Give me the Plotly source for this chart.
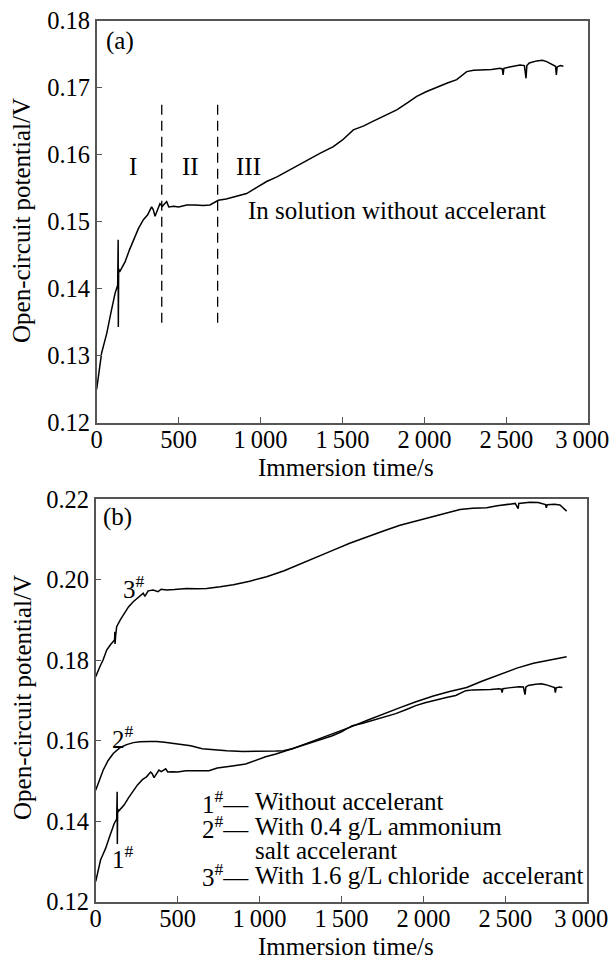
import plotly.graph_objects as go

# ---- data ----
t1 = [0, 15, 30, 45, 61, 85, 112, 128, 131, 132, 134, 140, 155, 173, 200, 224, 255, 285, 310, 335, 345, 356,
      370, 386, 400, 427, 440, 470, 500, 550, 600, 650, 691, 742, 790, 834, 915, 975, 1037, 1100, 1159, 1242,
      1300, 1362, 1444, 1500, 1566, 1630, 1688, 1760, 1831, 1900, 1953, 2010, 2075, 2140, 2197, 2230, 2258,
      2300, 2359, 2410, 2461, 2475, 2480, 2485, 2520, 2583, 2610, 2620, 2625, 2640, 2685, 2720, 2746, 2780,
      2800, 2805, 2810, 2830, 2848]
v1 = [0.1250, 0.1275, 0.1304, 0.1318, 0.1333, 0.1362, 0.1393, 0.1405, 0.1473, 0.1343, 0.1430, 0.1425, 0.1432,
      0.1440, 0.1458, 0.1473, 0.1490, 0.1503, 0.1510, 0.1522, 0.1518, 0.1508, 0.1518, 0.1527, 0.1523, 0.1530,
      0.1522, 0.1523, 0.1522, 0.1525, 0.1525, 0.1524, 0.1525, 0.1532, 0.1534, 0.1537, 0.1542, 0.1551, 0.1560,
      0.1567, 0.1575, 0.1585, 0.1593, 0.1602, 0.1612, 0.1622, 0.1637, 0.1643, 0.1650, 0.1658, 0.1667, 0.1678,
      0.1687, 0.1694, 0.1701, 0.1707, 0.1712, 0.1719, 0.1724, 0.1726, 0.1726, 0.1727, 0.1729, 0.1728, 0.1719,
      0.1729, 0.1731, 0.1734, 0.1733, 0.1714, 0.1733, 0.1737, 0.1740, 0.1741, 0.1739, 0.1735, 0.1732, 0.1719,
      0.1731, 0.1733, 0.1732]

t2 = [0, 20, 46, 75, 107, 150, 189, 230, 270, 330, 372, 420, 500, 580, 650, 720, 800, 900, 1000, 1100, 1145,
      1200, 1247, 1300, 1380, 1450, 1550, 1654, 1750, 1857, 1950, 2060, 2160, 2264, 2360, 2467, 2570, 2671,
      2770, 2874]
v2 = [0.1477, 0.1500, 0.1527, 0.1550, 0.1568, 0.1583, 0.1590, 0.1595, 0.1597, 0.1598, 0.1598, 0.1596, 0.1592,
      0.1587, 0.1580, 0.1577, 0.1575, 0.1573, 0.1573, 0.1574, 0.1575, 0.1580, 0.1587, 0.1595, 0.1607, 0.1616,
      0.1633, 0.1650, 0.1666, 0.1682, 0.1696, 0.1711, 0.1722, 0.1732, 0.1748, 0.1765, 0.1780, 0.1792, 0.1800,
      0.1808]

t3 = [0, 10, 26, 45, 67, 90, 108, 115, 117, 118, 122, 128, 150, 179, 200, 229, 260, 290, 300, 320, 351, 380,
      400, 433, 480, 555, 620, 677, 760, 840, 940, 1043, 1150, 1247, 1350, 1450, 1550, 1654, 1760, 1857, 1960,
      2060, 2140, 2223, 2300, 2386, 2450, 2508, 2560, 2578, 2582, 2650, 2700, 2745, 2750, 2755, 2800, 2833,
      2874]
v3 = [0.1759, 0.1770, 0.1784, 0.1800, 0.1825, 0.1838, 0.1846, 0.1850, 0.1870, 0.1840, 0.1862, 0.1883, 0.1900,
      0.1920, 0.1932, 0.1945, 0.1955, 0.1966, 0.1958, 0.1972, 0.1974, 0.1970, 0.1976, 0.1974, 0.1975, 0.1978,
      0.1977, 0.1978, 0.1982, 0.1987, 0.1996, 0.2007, 0.2022, 0.2038, 0.2056, 0.2073, 0.2090, 0.2106, 0.2121,
      0.2135, 0.2146, 0.2156, 0.2165, 0.2174, 0.2177, 0.2178, 0.2183, 0.2187, 0.2189, 0.2176, 0.2189, 0.2192,
      0.2191, 0.2186, 0.2178, 0.2186, 0.2187, 0.2185, 0.2170]

stage_bounds = [397, 738]
stage_span = [0.1349, 0.1682]
stage_labels = ["I", "II", "III"]
stage_label_t = [222, 575, 924]
stage_label_v = 0.1583

x_tickvals = [0, 500, 1000, 1500, 2000, 2500, 3000]
x_ticktext = ["0", "500", "1\u2009000", "1\u2009500", "2\u2009000", "2\u2009500", "3\u2009000\u2007"]
ya_ticks = [0.12, 0.13, 0.14, 0.15, 0.16, 0.17, 0.18]
yb_ticks = [0.12, 0.14, 0.16, 0.18, 0.20, 0.22]

legend_marks = ["1<sup>#</sup>—", "2<sup>#</sup>—", "", "3<sup>#</sup>—"]
legend_texts = ["Without accelerant", "With 0.4 g/L ammonium", "salt accelerant",
                "With 1.6 g/L chloride  accelerant"]

FONT = "Liberation Serif, Times New Roman, serif"
FS = 25
TFS = 24.5
W, H = 612, 958
AX = "#555555"

fig = go.Figure()
line = dict(color="black", width=1.5)
fig.add_trace(go.Scatter(x=t1, y=v1, mode="lines", line=line, xaxis="x", yaxis="y"))
for tb in stage_bounds:
    fig.add_trace(go.Scatter(x=[tb, tb], y=stage_span, mode="lines",
                             line=dict(color="black", width=1.3, dash="10px,6px"), xaxis="x", yaxis="y"))
fig.add_trace(go.Scatter(x=t1, y=v1, mode="lines", line=line, xaxis="x2", yaxis="y2"))
fig.add_trace(go.Scatter(x=t2, y=v2, mode="lines", line=line, xaxis="x2", yaxis="y2"))
fig.add_trace(go.Scatter(x=t3, y=v3, mode="lines", line=line, xaxis="x2", yaxis="y2"))

common_x = dict(range=[0, 3000], tickvals=x_tickvals, ticktext=x_ticktext, ticks="inside", ticklen=6,
                tickwidth=1.3, tickcolor=AX, showline=True, linecolor=AX, linewidth=1.5, mirror=True,
                showgrid=False, zeroline=False, automargin=False, ticklabeloverflow="allow",
                ticklabelstandoff=-6,
                tickfont=dict(family=FONT, size=TFS, color="black"))
common_y = dict(ticks="inside", ticklen=6, tickwidth=1.3, tickcolor=AX, showline=True, linecolor=AX,
                linewidth=1.5, mirror=True, showgrid=False, zeroline=False, tickformat=".2f",
                automargin=False, ticklabeloverflow="allow",
                tickfont=dict(family=FONT, size=TFS, color="black"))

fig.update_layout(
    width=W, height=H, margin=dict(l=0, r=0, t=0, b=0, autoexpand=False),
    paper_bgcolor="white", plot_bgcolor="white", showlegend=False,
    font=dict(family=FONT, size=FS, color="black"),
    xaxis=dict(domain=[96.7 / W, 588.3 / W], anchor="y", **common_x),
    yaxis=dict(domain=[1 - 422.7 / H, 1 - 20.7 / H], anchor="x", range=[0.12, 0.18], tickvals=ya_ticks,
               **common_y),
    xaxis2=dict(domain=[95.7 / W, 587.3 / W], anchor="y2", **common_x),
    yaxis2=dict(domain=[1 - 901.7 / H, 1 - 499 / H], anchor="x2", range=[0.12, 0.22], tickvals=yb_ticks,
                **common_y),
)

ann = []
def txt(x, y, s, xref="paper", yref="paper", **kw):
    d = dict(x=x, y=y, text=s, xref=xref, yref=yref, showarrow=False,
             font=dict(family=FONT, size=kw.pop("size", FS), color="black"))
    d.update(kw)
    ann.append(d)

# axis titles
txt(346 / W, 1 - 467 / H, "Immersion time/s", yanchor="middle")
txt(346 / W, 1 - 946 / H, "Immersion time/s", yanchor="middle")
txt(22 / W, 1 - 221 / H, "Open-circuit potential/V", textangle=-90, xanchor="center", yanchor="middle")
txt(22 / W, 1 - 698 / H, "Open-circuit potential/V", textangle=-90, xanchor="center", yanchor="middle")

# panel a
txt(142, 0.1769, "(a)", "x", "y")
for s, tt in zip(stage_labels, stage_label_t):
    txt(tt, stage_label_v, s, "x", "y")
txt(913, 0.1517, "In solution without accelerant", "x", "y", xanchor="left")

# panel b
txt(136, 0.2156, "(b)", "x2", "y2")
txt(234, 0.1982, "3<sup>#</sup>", "x2", "y2")
txt(167, 0.1610, "2<sup>#</sup>", "x2", "y2")
txt(164, 0.1312, "1<sup>#</sup>", "x2", "y2")
leg_v = [0.1448, 0.1386, 0.1328, 0.1266]
for m, s, v in zip(legend_marks, legend_texts, leg_v):
    if m:
        txt(950, v, m, "x2", "y2", xanchor="right")
    txt(960, v, s, "x2", "y2", xanchor="left")

fig.update_layout(annotations=ann)
fig.write_html("out.html", config={"displayModeBar": False},
               post_script="document.body.style.margin='0';document.body.style.overflow='hidden';")
